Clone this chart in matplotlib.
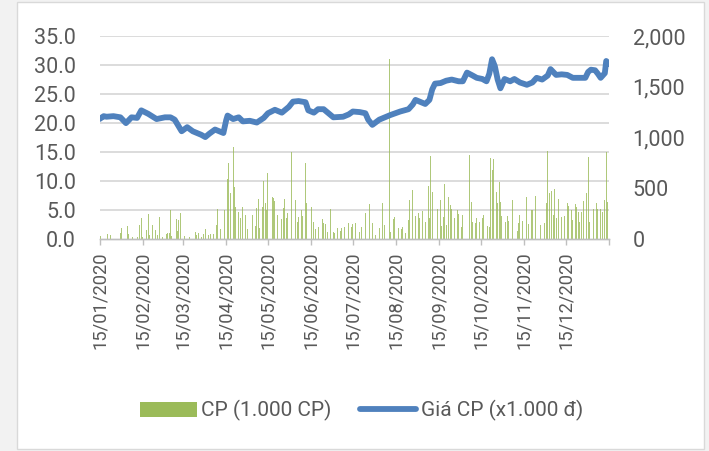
import numpy as np
import pandas as pd
import matplotlib
matplotlib.use('Agg')
import matplotlib.pyplot as plt
import matplotlib.dates as mdates
from matplotlib.patches import Rectangle, Patch
from matplotlib.lines import Line2D

plt.rcParams['font.family'] = ['Roboto', 'DejaVu Sans']

# ngay goc cua truc thoi gian, du lieu tinh theo so ngay ke tu ngay nay
start = pd.Timestamp('2020-01-15')

# Gia CP (x1.000 d), truc trai
price_day = [0, 3, 5, 10, 15, 19, 23, 27, 30, 35, 41, 47, 51, 54, 57, 59, 63, 67, 70, 73,
             76, 79, 83, 86, 89, 91, 92, 96, 100, 103, 108, 113, 118, 121, 126, 131, 136, 139, 143, 148,
             150, 154, 157, 161, 165, 168, 175, 179, 182, 187, 191, 193, 196, 201, 205, 209, 216, 222, 225, 227,
             231, 234, 237, 239, 241, 245, 249, 253, 258, 261, 264, 268, 271, 275, 278, 280, 282, 284, 286, 288,
             291, 295, 298, 302, 307, 311, 314, 318, 322, 324, 328, 332, 336, 340, 345, 349, 351, 353, 356, 358,
             360, 363, 364, 366]
price_val = [20.7, 21.2, 21.1, 21.2, 21.0, 20.0, 21.0, 20.9, 22.2, 21.6, 20.7, 21.0, 21.0, 20.6, 19.4, 18.6, 19.3, 18.6, 18.3, 18.0,
             17.6, 18.2, 18.9, 18.6, 18.3, 20.5, 21.3, 20.7, 21.0, 20.3, 20.4, 20.1, 20.9, 21.7, 22.3, 21.8, 22.8, 23.7, 23.8, 23.6,
             22.2, 21.8, 22.4, 22.4, 21.6, 21.0, 21.1, 21.5, 22.0, 21.9, 21.7, 20.6, 19.7, 20.6, 21.0, 21.4, 22.0, 22.4, 23.2, 24.0,
             23.6, 23.3, 24.0, 25.8, 26.8, 26.9, 27.3, 27.5, 27.2, 27.2, 28.7, 28.2, 27.8, 27.6, 27.2, 28.5, 31.0, 29.8, 27.5, 26.0,
             27.6, 27.2, 27.6, 27.0, 26.6, 27.0, 27.8, 27.5, 28.2, 29.3, 28.3, 28.4, 28.3, 27.8, 27.8, 27.8, 28.8, 29.2, 29.1, 28.5,
             27.8, 28.6, 30.7, 30.2]

# Khoi luong CP (1.000 CP), truc phai
vol_day = [1, 6, 8, 15, 16, 20, 21, 24, 27, 29, 30, 31, 34, 35, 36, 38, 40, 42, 43, 45,
           48, 49, 50, 51, 52, 55, 56, 57, 58, 61, 65, 69, 70, 71, 73, 75, 76, 78, 80, 82,
           84, 85, 87,
           90, 92, 93, 94, 96, 97, 98, 100, 101, 103, 105, 106, 110, 112, 113, 114, 115, 117, 118, 119,
           120, 121, 124, 125, 126, 128, 131, 132, 133, 134, 135, 138, 139, 141, 142, 143, 145, 146, 148, 149,
           152, 154, 155, 157, 160, 161, 162, 164, 166, 168, 169, 171, 173, 174, 176, 179, 181, 182,
           184, 187, 188, 190, 191, 194, 196, 198, 201, 203, 205, 208, 209, 211, 212, 215, 217, 218, 220, 222,
           223, 225, 227, 229, 230, 232, 234, 236, 237, 238, 239, 241, 243, 245, 246, 247, 248, 249, 251, 252,
           253, 255, 257, 258, 260, 261, 264, 266, 267, 268, 270, 271, 273, 275, 276,
           279, 280, 281, 282, 283, 285, 286, 287, 288, 289, 292, 293, 294, 297, 300, 301, 302, 304, 307, 308,
           310, 311, 313, 315, 317, 320, 321, 322, 323, 325, 326, 327, 328, 330, 332, 334, 336, 337, 339, 340,
           342, 343, 344, 345, 346, 348, 350, 351, 352, 355, 357, 358, 360, 361, 363, 364, 365, 366]
vol_val = [33, 50, 40, 65, 108, 131, 50, 20, 20, 141, 207, 26, 92, 250, 43, 141, 92, 43, 217, 26,
           50, 60, 66, 289, 33, 197, 85, 190, 263, 36, 26, 69, 43, 66, 26, 56, 98, 39, 50, 50,
           141, 296, 98,
           289, 591, 749, 460, 906, 519, 322, 273, 207, 315, 240, 98, 240, 131, 305, 394, 108, 322, 578, 361,
           289, 657, 414, 404, 378, 240, 197, 305, 394, 207, 263, 854, 388, 388, 174, 223, 289, 230, 749, 361,
           322, 174, 98, 118, 197, 158, 151, 76, 296, 76, 66, 108, 85, 108, 118, 158, 118, 151,
           164, 76, 118, 158, 256, 345, 164, 43, 108, 355, 141, 1770, 76, 197, 217, 108, 98, 125, 59, 190,
           388, 486, 230, 256, 207, 282, 174, 525, 207, 821, 470, 207, 296, 388, 131, 217, 545, 141, 414, 338,
           296, 207, 289, 250, 118, 240, 190, 831, 371, 174, 158, 207, 174, 207, 240,
           131, 118, 798, 683, 788, 470, 355, 568, 371, 230, 174, 230, 184, 388, 85, 164, 240, 184, 420, 151,
           289, 289, 427, 174, 141, 158, 361, 870, 460, 479, 240, 493, 207, 394, 223, 230, 355, 328, 289, 190,
           348, 322, 273, 174, 273, 381, 460, 814, 174, 296, 355, 296, 296, 273, 388, 854, 371, 217]

left_ticks = [0, 5, 10, 15, 20, 25, 30, 35]
right_ticks = [0, 500, 1000, 1500, 2000]
month_ticks = pd.date_range('2020-01-15', '2021-01-15', freq=pd.DateOffset(months=1))

price_dates = start + pd.to_timedelta(price_day, unit='D')
vol_dates = start + pd.to_timedelta(vol_day, unit='D')

txt = '#595959'
green = '#9BBB59'
blue = '#4F81BD'
grid = '#D9D9D9'

fig = plt.figure(figsize=(7.09, 4.51), dpi=100)
fig.patch.set_facecolor('#F2F2F2')
fig.patches.append(Rectangle((17 / 709, 2 / 451), 686.5 / 709, 447 / 451, transform=fig.transFigure,
                             facecolor='white', edgecolor=grid, linewidth=1.0, zorder=-5))

ax = fig.add_axes([99.5 / 709, (451 - 239.3) / 451, 509.5 / 709, 203.3 / 451])
ax2 = ax.twinx()
ax.set_zorder(2)
ax2.set_zorder(1)
ax.patch.set_visible(False)
ax2.patch.set_visible(False)

# luoi ngang
for y in left_ticks[1:]:
    ax2.axhline(y * 2000 / 35, color=grid, linewidth=1.3, zorder=0)

# cot khoi luong (truc phai)
ax2.bar(vol_dates, vol_val, width=0.7, color=green, alpha=0.8, linewidth=0, zorder=2)
ax2.set_ylim(0, 2000)
ax2.set_yticks(right_ticks)
ax2.set_yticklabels(['{:,}'.format(v) for v in right_ticks])

# duong gia (truc trai), ve tren cot
ax.plot(price_dates, price_val, color=blue, linewidth=4.2, solid_capstyle='round', solid_joinstyle='round')
ax.set_ylim(0, 35)
ax.set_yticks(left_ticks)
ax.set_yticklabels(['%.1f' % v for v in left_ticks])

ax.set_xlim(start, start + pd.Timedelta(days=366))
ax.set_xticks(month_ticks)
ax.set_xticklabels([d.strftime('%d/%m/%Y') for d in month_ticks[:-1]] + [''], rotation=90,
                   fontsize=13.2, color=txt)

for a in (ax, ax2):
    for s in ('top', 'left', 'right'):
        a.spines[s].set_visible(False)
    a.spines['bottom'].set_color('#BFBFBF')
    a.spines['bottom'].set_linewidth(1.0)
ax.tick_params(axis='x', direction='out', length=4, width=1.0, color='#BFBFBF', pad=5)
ax.tick_params(axis='y', length=0, pad=17, labelsize=15.5, labelcolor=txt)
ax2.tick_params(axis='y', length=0, pad=17, labelsize=15.5, labelcolor=txt)

handles = [Patch(facecolor=green, edgecolor='none'),
           Line2D([0], [0], color=blue, linewidth=4.2, solid_capstyle='round')]
fig.legend(handles, ['CP (1.000 CP)', 'Giá CP (x1.000 đ)'], loc='center',
           bbox_to_anchor=(0.51, 0.089), ncol=2, frameon=False, fontsize=15, labelcolor=txt,
           handlelength=2.7, handletextpad=0.2, columnspacing=1.4)

fig.savefig('out.png', dpi=100)
